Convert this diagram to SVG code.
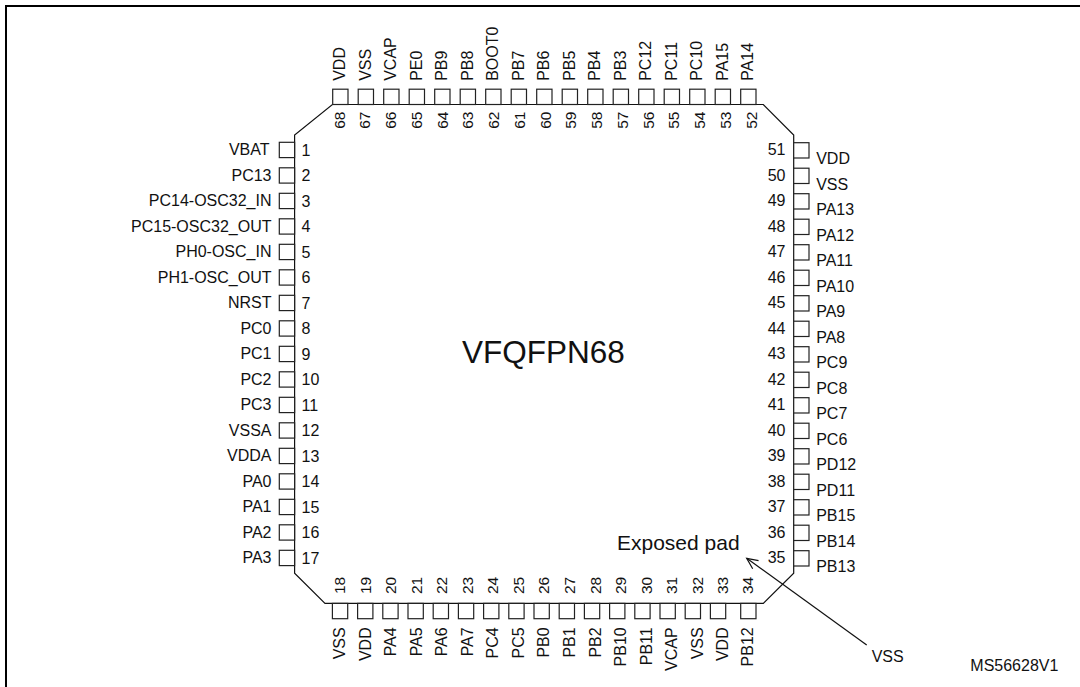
<svg xmlns="http://www.w3.org/2000/svg" width="1080" height="687" viewBox="0 0 1080 687">
<style>
text{font-family:"Liberation Sans",Arial,sans-serif;fill:#111}
.l{font-size:16px}.n{font-size:16px}.r{font-size:15.5px}.e{text-anchor:end}
.p{fill:#fff;stroke:#222;stroke-width:1.2}
.s{fill:none;stroke:#111;stroke-width:1.2}
</style>
<defs>
<marker id="open" markerWidth="14" markerHeight="14" refX="12" refY="6" orient="auto" markerUnits="userSpaceOnUse"><path d="M1 1L12 6L1 11" fill="none" stroke="#111" stroke-width="1.2"/></marker>
<symbol id="pad" overflow="visible"><rect class="p" width="15.3" height="15.3"/></symbol>
</defs>
<rect width="1080" height="687" fill="#fff"/>
<path id="frame" d="M1080 6H6V687" fill="none" stroke="#000" stroke-width="2"/>
<path id="package" class="s" d="M332.4 104.5H763.3L793.7 135V573.3L763.3 603.4H325L294.6 573.3V135Z"/>
<text x="462" y="363.3" font-size="31.5px">VFQFPN68</text>
<text x="617" y="550" font-size="21px">Exposed pad</text>
<g id="connectors"><line class="s" x1="866.7" y1="645" x2="746.7" y2="558.3" marker-end="url(#open)"/></g>
<text class="l" x="871.7" y="661.7">VSS</text>
<text class="l" x="970.3" y="671">MS56628V1</text>
<g id="pin1"><use href="#pad" x="279.3" y="142.3"/><text class="l e" x="269.5" y="155.3">VBAT</text><text class="n" x="301.5" y="155.8">1</text></g>
<g id="pin2"><use href="#pad" x="279.3" y="167.8"/><text class="l e" x="271.5" y="180.8">PC13</text><text class="n" x="301.5" y="181.3">2</text></g>
<g id="pin3"><use href="#pad" x="279.3" y="193.3"/><text class="l e" x="271.5" y="206.3">PC14-OSC32_IN</text><text class="n" x="301.5" y="206.8">3</text></g>
<g id="pin4"><use href="#pad" x="279.3" y="218.8"/><text class="l e" x="271.5" y="231.8">PC15-OSC32_OUT</text><text class="n" x="301.5" y="232.3">4</text></g>
<g id="pin5"><use href="#pad" x="279.3" y="244.3"/><text class="l e" x="271.5" y="257.3">PH0-OSC_IN</text><text class="n" x="301.5" y="257.8">5</text></g>
<g id="pin6"><use href="#pad" x="279.3" y="269.8"/><text class="l e" x="271.5" y="282.8">PH1-OSC_OUT</text><text class="n" x="301.5" y="283.3">6</text></g>
<g id="pin7"><use href="#pad" x="279.3" y="295.3"/><text class="l e" x="271.5" y="308.3">NRST</text><text class="n" x="301.5" y="308.8">7</text></g>
<g id="pin8"><use href="#pad" x="279.3" y="320.8"/><text class="l e" x="271.5" y="333.8">PC0</text><text class="n" x="301.5" y="334.3">8</text></g>
<g id="pin9"><use href="#pad" x="279.3" y="346.3"/><text class="l e" x="271.5" y="359.3">PC1</text><text class="n" x="301.5" y="359.8">9</text></g>
<g id="pin10"><use href="#pad" x="279.3" y="371.8"/><text class="l e" x="271.5" y="384.8">PC2</text><text class="n" x="301.5" y="385.3">10</text></g>
<g id="pin11"><use href="#pad" x="279.3" y="397.3"/><text class="l e" x="271.5" y="410.3">PC3</text><text class="n" x="301.5" y="410.8">11</text></g>
<g id="pin12"><use href="#pad" x="279.3" y="422.8"/><text class="l e" x="271.5" y="435.8">VSSA</text><text class="n" x="301.5" y="436.3">12</text></g>
<g id="pin13"><use href="#pad" x="279.3" y="448.3"/><text class="l e" x="271.5" y="461.3">VDDA</text><text class="n" x="301.5" y="461.8">13</text></g>
<g id="pin14"><use href="#pad" x="279.3" y="473.8"/><text class="l e" x="271.5" y="486.8">PA0</text><text class="n" x="301.5" y="487.3">14</text></g>
<g id="pin15"><use href="#pad" x="279.3" y="499.3"/><text class="l e" x="271.5" y="512.3">PA1</text><text class="n" x="301.5" y="512.8">15</text></g>
<g id="pin16"><use href="#pad" x="279.3" y="524.8"/><text class="l e" x="271.5" y="537.8">PA2</text><text class="n" x="301.5" y="538.3">16</text></g>
<g id="pin17"><use href="#pad" x="279.3" y="550.3"/><text class="l e" x="271.5" y="563.3">PA3</text><text class="n" x="301.5" y="563.8">17</text></g>
<g id="pin18"><use href="#pad" x="332.4" y="603.4"/><text class="r" transform="translate(345 594) rotate(-90)">18</text><text class="l e" transform="translate(345 627.3) rotate(-90)">VSS</text></g>
<g id="pin19"><use href="#pad" x="357.6" y="603.4"/><text class="r" transform="translate(370.5 594) rotate(-90)">19</text><text class="l e" transform="translate(370.5 627.3) rotate(-90)">VDD</text></g>
<g id="pin20"><use href="#pad" x="382.8" y="603.4"/><text class="r" transform="translate(396.1 594) rotate(-90)">20</text><text class="l e" transform="translate(396.1 627.3) rotate(-90)">PA4</text></g>
<g id="pin21"><use href="#pad" x="408" y="603.4"/><text class="r" transform="translate(421.6 594) rotate(-90)">21</text><text class="l e" transform="translate(421.6 627.3) rotate(-90)">PA5</text></g>
<g id="pin22"><use href="#pad" x="433.2" y="603.4"/><text class="r" transform="translate(447.2 594) rotate(-90)">22</text><text class="l e" transform="translate(447.2 627.3) rotate(-90)">PA6</text></g>
<g id="pin23"><use href="#pad" x="458.4" y="603.4"/><text class="r" transform="translate(472.7 594) rotate(-90)">23</text><text class="l e" transform="translate(472.7 627.3) rotate(-90)">PA7</text></g>
<g id="pin24"><use href="#pad" x="483.6" y="603.4"/><text class="r" transform="translate(498.3 594) rotate(-90)">24</text><text class="l e" transform="translate(498.3 627.3) rotate(-90)">PC4</text></g>
<g id="pin25"><use href="#pad" x="508.8" y="603.4"/><text class="r" transform="translate(523.8 594) rotate(-90)">25</text><text class="l e" transform="translate(523.8 627.3) rotate(-90)">PC5</text></g>
<g id="pin26"><use href="#pad" x="534" y="603.4"/><text class="r" transform="translate(549.4 594) rotate(-90)">26</text><text class="l e" transform="translate(549.4 627.3) rotate(-90)">PB0</text></g>
<g id="pin27"><use href="#pad" x="559.2" y="603.4"/><text class="r" transform="translate(575 594) rotate(-90)">27</text><text class="l e" transform="translate(575 627.3) rotate(-90)">PB1</text></g>
<g id="pin28"><use href="#pad" x="584.4" y="603.4"/><text class="r" transform="translate(600.5 594) rotate(-90)">28</text><text class="l e" transform="translate(600.5 627.3) rotate(-90)">PB2</text></g>
<g id="pin29"><use href="#pad" x="609.6" y="603.4"/><text class="r" transform="translate(626.1 594) rotate(-90)">29</text><text class="l e" transform="translate(626.1 627.3) rotate(-90)">PB10</text></g>
<g id="pin30"><use href="#pad" x="634.8" y="603.4"/><text class="r" transform="translate(651.6 594) rotate(-90)">30</text><text class="l e" transform="translate(651.6 627.3) rotate(-90)">PB11</text></g>
<g id="pin31"><use href="#pad" x="660" y="603.4"/><text class="r" transform="translate(677.2 594) rotate(-90)">31</text><text class="l e" transform="translate(677.2 627.3) rotate(-90)">VCAP</text></g>
<g id="pin32"><use href="#pad" x="685.2" y="603.4"/><text class="r" transform="translate(702.7 594) rotate(-90)">32</text><text class="l e" transform="translate(702.7 627.3) rotate(-90)">VSS</text></g>
<g id="pin33"><use href="#pad" x="710.4" y="603.4"/><text class="r" transform="translate(727.7 594) rotate(-90)">33</text><text class="l e" transform="translate(727.7 627.3) rotate(-90)">VDD</text></g>
<g id="pin34"><use href="#pad" x="740.7" y="603.4"/><text class="r" transform="translate(752.7 594) rotate(-90)">34</text><text class="l e" transform="translate(752.7 627.3) rotate(-90)">PB12</text></g>
<g id="pin35"><use href="#pad" x="793.7" y="550.7"/><text class="n e" x="785.5" y="563.3">35</text><text class="l" x="816.2" y="572">PB13</text></g>
<g id="pin36"><use href="#pad" x="793.7" y="525.2"/><text class="n e" x="785.5" y="537.8">36</text><text class="l" x="816.2" y="546.5">PB14</text></g>
<g id="pin37"><use href="#pad" x="793.7" y="499.7"/><text class="n e" x="785.5" y="512.3">37</text><text class="l" x="816.2" y="521">PB15</text></g>
<g id="pin38"><use href="#pad" x="793.7" y="474.2"/><text class="n e" x="785.5" y="486.8">38</text><text class="l" x="816.2" y="495.5">PD11</text></g>
<g id="pin39"><use href="#pad" x="793.7" y="448.7"/><text class="n e" x="785.5" y="461.3">39</text><text class="l" x="816.2" y="470">PD12</text></g>
<g id="pin40"><use href="#pad" x="793.7" y="423.2"/><text class="n e" x="785.5" y="435.8">40</text><text class="l" x="816.2" y="444.5">PC6</text></g>
<g id="pin41"><use href="#pad" x="793.7" y="397.7"/><text class="n e" x="785.5" y="410.3">41</text><text class="l" x="816.2" y="419">PC7</text></g>
<g id="pin42"><use href="#pad" x="793.7" y="372.2"/><text class="n e" x="785.5" y="384.8">42</text><text class="l" x="816.2" y="393.5">PC8</text></g>
<g id="pin43"><use href="#pad" x="793.7" y="346.7"/><text class="n e" x="785.5" y="359.3">43</text><text class="l" x="816.2" y="368">PC9</text></g>
<g id="pin44"><use href="#pad" x="793.7" y="321.2"/><text class="n e" x="785.5" y="333.8">44</text><text class="l" x="816.2" y="342.5">PA8</text></g>
<g id="pin45"><use href="#pad" x="793.7" y="295.7"/><text class="n e" x="785.5" y="308.3">45</text><text class="l" x="816.2" y="317">PA9</text></g>
<g id="pin46"><use href="#pad" x="793.7" y="270.2"/><text class="n e" x="785.5" y="282.8">46</text><text class="l" x="816.2" y="291.5">PA10</text></g>
<g id="pin47"><use href="#pad" x="793.7" y="244.7"/><text class="n e" x="785.5" y="257.3">47</text><text class="l" x="816.2" y="266">PA11</text></g>
<g id="pin48"><use href="#pad" x="793.7" y="219.2"/><text class="n e" x="785.5" y="231.8">48</text><text class="l" x="816.2" y="240.5">PA12</text></g>
<g id="pin49"><use href="#pad" x="793.7" y="193.7"/><text class="n e" x="785.5" y="206.3">49</text><text class="l" x="816.2" y="215">PA13</text></g>
<g id="pin50"><use href="#pad" x="793.7" y="168.2"/><text class="n e" x="785.5" y="180.8">50</text><text class="l" x="816.2" y="189.5">VSS</text></g>
<g id="pin51"><use href="#pad" x="793.7" y="142.7"/><text class="n e" x="785.5" y="155.3">51</text><text class="l" x="816.2" y="164">VDD</text></g>
<g id="pin52"><use href="#pad" x="740.7" y="89.2"/><text class="r" transform="translate(756.7 128.8) rotate(-90)">52</text><text class="l" transform="translate(753.3 80.8) rotate(-90)">PA14</text></g>
<g id="pin53"><use href="#pad" x="715.2" y="89.2"/><text class="r" transform="translate(730.9 128.8) rotate(-90)">53</text><text class="l" transform="translate(727.8 80.8) rotate(-90)">PA15</text></g>
<g id="pin54"><use href="#pad" x="689.7" y="89.2"/><text class="r" transform="translate(705.1 128.8) rotate(-90)">54</text><text class="l" transform="translate(702.3 80.8) rotate(-90)">PC10</text></g>
<g id="pin55"><use href="#pad" x="664.2" y="89.2"/><text class="r" transform="translate(679.4 128.8) rotate(-90)">55</text><text class="l" transform="translate(676.8 80.8) rotate(-90)">PC11</text></g>
<g id="pin56"><use href="#pad" x="638.7" y="89.2"/><text class="r" transform="translate(653.6 128.8) rotate(-90)">56</text><text class="l" transform="translate(651.2 80.8) rotate(-90)">PC12</text></g>
<g id="pin57"><use href="#pad" x="613.2" y="89.2"/><text class="r" transform="translate(627.9 128.8) rotate(-90)">57</text><text class="l" transform="translate(625.7 80.8) rotate(-90)">PB3</text></g>
<g id="pin58"><use href="#pad" x="587.7" y="89.2"/><text class="r" transform="translate(602.1 128.8) rotate(-90)">58</text><text class="l" transform="translate(600.2 80.8) rotate(-90)">PB4</text></g>
<g id="pin59"><use href="#pad" x="562.2" y="89.2"/><text class="r" transform="translate(576.3 128.8) rotate(-90)">59</text><text class="l" transform="translate(574.7 80.8) rotate(-90)">PB5</text></g>
<g id="pin60"><use href="#pad" x="536.7" y="89.2"/><text class="r" transform="translate(550.6 128.8) rotate(-90)">60</text><text class="l" transform="translate(549.2 80.8) rotate(-90)">PB6</text></g>
<g id="pin61"><use href="#pad" x="511.2" y="89.2"/><text class="r" transform="translate(524.8 128.8) rotate(-90)">61</text><text class="l" transform="translate(523.6 80.8) rotate(-90)">PB7</text></g>
<g id="pin62"><use href="#pad" x="485.7" y="89.2"/><text class="r" transform="translate(499.1 128.8) rotate(-90)">62</text><text class="l" transform="translate(498.1 80.8) rotate(-90)">BOOT0</text></g>
<g id="pin63"><use href="#pad" x="460.2" y="89.2"/><text class="r" transform="translate(473.3 128.8) rotate(-90)">63</text><text class="l" transform="translate(472.6 80.8) rotate(-90)">PB8</text></g>
<g id="pin64"><use href="#pad" x="434.7" y="89.2"/><text class="r" transform="translate(447.5 128.8) rotate(-90)">64</text><text class="l" transform="translate(447.1 80.8) rotate(-90)">PB9</text></g>
<g id="pin65"><use href="#pad" x="409.2" y="89.2"/><text class="r" transform="translate(421.8 128.8) rotate(-90)">65</text><text class="l" transform="translate(421.6 80.8) rotate(-90)">PE0</text></g>
<g id="pin66"><use href="#pad" x="383.7" y="89.2"/><text class="r" transform="translate(396 128.8) rotate(-90)">66</text><text class="l" transform="translate(396 80.8) rotate(-90)">VCAP</text></g>
<g id="pin67"><use href="#pad" x="358.2" y="89.2"/><text class="r" transform="translate(370.3 128.8) rotate(-90)">67</text><text class="l" transform="translate(370.5 80.8) rotate(-90)">VSS</text></g>
<g id="pin68"><use href="#pad" x="332.7" y="89.2"/><text class="r" transform="translate(344.5 128.8) rotate(-90)">68</text><text class="l" transform="translate(345 80.8) rotate(-90)">VDD</text></g>
</svg>
